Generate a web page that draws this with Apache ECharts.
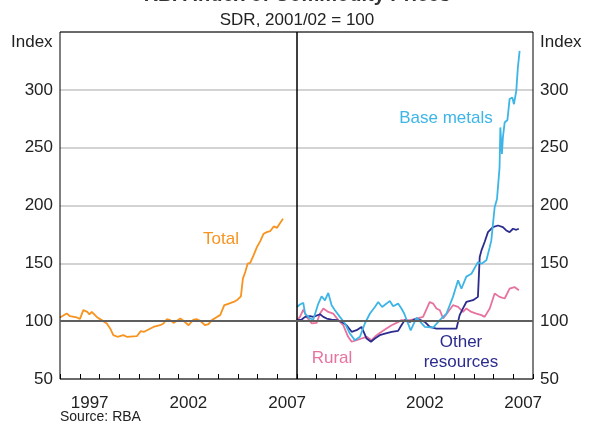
<!DOCTYPE html>
<html>
<head>
<meta charset="utf-8">
<script src="https://cdn.jsdelivr.net/npm/echarts@6/dist/echarts.min.js"></script>
<style>html,body{margin:0;padding:0;background:#fff}#c{width:591px;height:425px}</style>
</head>
<body>
<div id="c"></div>
<script>
// ---- data ----
const yearCats = ['1996','1997','1998','1999','2000','2001','2002','2003','2004','2005','2006','2007'];
const leftLabels = ['1997','2002','2007'];
const rightLabels = ['2002','2007'];
const yTicks = [50,100,150,200,250,300];

const totalX = [1996.0,1996.34,1996.51,1996.85,1997.01,1997.18,1997.38,1997.49,1997.61,1997.86,1998.11,1998.37,1998.54,1998.70,1998.91,1999.21,1999.38,1999.89,2000.09,2000.26,2000.73,2001.07,2001.24,2001.41,2001.58,2001.75,2002.09,2002.25,2002.51,2002.76,2002.93,2003.10,2003.35,2003.52,2003.69,2003.95,2004.11,2004.32,2004.45,2004.79,2004.99,2005.16,2005.26,2005.38,2005.50,2005.63,2005.80,2005.97,2006.14,2006.31,2006.47,2006.64,2006.82,2006.99,2007.12,2007.29];
const totalY = [103.2,106.6,104.3,103.2,102,109.5,108,105.8,108,103.7,100.9,98,93.7,87.9,86.5,87.9,86.5,87,91.4,90.8,95,96.5,98,101.7,100.9,98.5,102.3,100.3,96.5,101.4,101.7,100.3,96.5,97.4,100.9,103.7,105.2,113.8,114.6,116.6,118.6,121.5,136.8,142.5,149.7,150.3,156.9,164,169.2,175.6,177,177.8,181.9,180.7,184.2,188.5];

const baseX = [1996.0,1996.15,1996.32,1996.41,1996.66,1996.83,1997.08,1997.25,1997.42,1997.59,1997.76,1997.93,1998.18,1998.44,1998.69,1998.94,1999.20,1999.45,1999.71,1999.96,2000.13,2000.33,2000.55,2000.72,2000.89,2001.14,2001.31,2001.45,2001.78,2002.08,2002.50,2002.92,2003.26,2003.60,2003.93,2004.19,2004.36,2004.61,2004.87,2005.20,2005.38,2005.63,2005.80,2005.88,2006.05,2006.17,2006.30,2006.34,2006.42,2006.47,2006.56,2006.70,2006.81,2006.95,2007.03,2007.15,2007.23,2007.32];
const baseY = [112.3,114.4,115.8,106.6,102.3,101.4,115,121.5,118,124.4,113.8,109.5,103.7,98,89.3,83.6,86.5,98,106.6,112.3,116.6,112.3,115.2,117.5,112.9,115.2,110.9,106.6,92,103,95,94.5,100.9,106.6,121,135.3,128,138.5,141,151,149.7,152.6,164,169.8,198.5,205.7,233,267.5,244.6,258.9,271.8,273.9,292,293.4,287.6,299.1,319.2,333.6];

const otherX = [1996.0,1996.24,1996.41,1996.66,1996.83,1997.17,1997.34,1997.51,1997.76,1998.02,1998.27,1998.52,1998.78,1999.03,1999.28,1999.54,1999.76,1999.96,2000.21,2000.47,2000.81,2001.14,2001.31,2001.48,2001.74,2002.08,2002.50,2002.75,2003.09,2003.43,2003.77,2004.11,2004.27,2004.44,2004.61,2004.95,2005.20,2005.29,2005.38,2005.54,2005.71,2005.96,2006.22,2006.47,2006.64,2006.81,2006.98,2007.15,2007.28];
const otherY = [100.9,101.4,103.7,104.3,103.7,106,103.7,102.3,101.4,100.9,99.4,96.5,90.8,92.2,95,85,82.2,85,87.9,89.3,90.8,91.6,96.5,100.9,99.4,102.3,99.4,95,93.6,93.6,93.6,93.6,105.2,111,116.6,118.1,121,155.4,161.2,168.4,177,181.3,182.7,181.3,178.4,177,179.9,179,179.9];

const ruralX = [1996.0,1996.15,1996.32,1996.49,1996.75,1997.0,1997.17,1997.34,1997.59,1997.84,1998.10,1998.35,1998.60,1998.78,1999.03,1999.28,1999.54,1999.79,2000.05,2000.30,2000.55,2000.81,2001.06,2001.31,2001.74,2002.08,2002.41,2002.75,2002.92,2003.09,2003.26,2003.43,2003.68,2003.93,2004.19,2004.44,2004.61,2004.87,2005.12,2005.38,2005.54,2005.80,2006.05,2006.30,2006.56,2006.81,2007.06,2007.28];
const ruralY = [100.9,103.7,110,103.7,98,98.5,106.6,110.9,108,106.6,100.9,96.5,86.5,82.2,83.6,85,86.5,83.6,87.9,90.8,93.6,96.5,98.5,100.9,100.9,102.3,103.7,116.6,115.2,111,109.5,102.3,108,113.8,112.3,108,111,108,106.6,105.2,103.7,111,123.9,121,119.6,128.1,129.5,126.7];

// ---- chart ----
const FONT = "'Liberation Sans', Arial, sans-serif";
const C_TOTAL = '#F7931E', C_BASE = '#3DB5E6', C_OTHER = '#2B2C8E', C_RURAL = '#E8729F';
const zip = (xs, ys) => xs.map((x, i) => [x, ys[i]]);

const chart = echarts.init(document.getElementById('c'), null, {renderer: 'canvas'});

function valueX(grid) {
  return {type: 'value', gridIndex: grid, min: 1996, max: 2008, interval: 1,
    axisLine: {show: false}, axisTick: {show: true, inside: true, length: 5, lineStyle: {color: '#000', width: 1}},
    axisLabel: {show: false}, splitLine: {show: false}};
}
function catX(grid, shown) {
  return {type: 'category', gridIndex: grid, data: yearCats, boundaryGap: true, position: 'bottom',
    axisLine: {show: false}, axisTick: {show: false}, splitLine: {show: false},
    axisLabel: {interval: (i, v) => shown.indexOf(v) >= 0, margin: 16, fontSize: 17, color: '#222', fontFamily: FONT}};
}
function yAx(grid, pos) {
  return {type: 'value', gridIndex: grid, min: 50, max: 350, interval: 50, position: pos,
    axisLine: {show: false}, axisTick: {show: false},
    axisLabel: {margin: 7, fontSize: 17, color: '#222', fontFamily: FONT,
      formatter: v => yTicks.indexOf(v) >= 0 ? String(v) : ''},
    splitLine: {show: true, lineStyle: {color: '#C4C4C4', width: 1.5}}};
}
function refLine(xi, yi) {
  return {type: 'line', xAxisIndex: xi, yAxisIndex: yi, data: [], z: 1, silent: true,
    markLine: {silent: true, symbol: 'none', label: {show: false}, animation: false,
      lineStyle: {color: '#5E5E5E', width: 2, type: 'solid'}, data: [{yAxis: 100}]}};
}
function ln(name, xi, yi, xs, ys, color) {
  return {type: 'line', name: name, xAxisIndex: xi, yAxisIndex: yi, data: zip(xs, ys), z: 3,
    showSymbol: false, symbol: 'none', lineStyle: {color: color, width: 1.8}, itemStyle: {color: color}, animation: false};
}
function txt(x, y, s, color, size, align, weight) {
  return {type: 'text', x: x, y: y, silent: true, z: 10,
    style: {text: s, fill: color, fontSize: size, fontFamily: FONT, fontWeight: weight || 'normal',
      align: align || 'center', verticalAlign: 'middle'}};
}

chart.setOption({
  animation: false,
  backgroundColor: '#fff',
  grid: [
    {left: 60, right: 294, top: 32, bottom: 46, show: true, borderColor: '#000', borderWidth: 1, backgroundColor: 'transparent', z: 5},
    {left: 297, right: 58, top: 32, bottom: 46, show: true, borderColor: '#000', borderWidth: 1, backgroundColor: 'transparent', z: 5}
  ],
  xAxis: [valueX(0), catX(0, leftLabels), valueX(1), catX(1, rightLabels)],
  yAxis: [yAx(0, 'left'), yAx(1, 'right')],
  series: [
    refLine(0, 0), refLine(2, 1),
    ln('Total', 0, 0, totalX, totalY, C_TOTAL),
    ln('Rural', 2, 1, ruralX, ruralY, C_RURAL),
    ln('Other resources', 2, 1, otherX, otherY, C_OTHER),
    ln('Base metals', 2, 1, baseX, baseY, C_BASE)
  ],
  graphic: [
    txt(297, -5, 'RBA Index of Commodity Prices', '#333', 20, 'center', 'bold'),
    txt(297, 20, 'SDR, 2001/02 = 100', '#222', 17),
    txt(11, 42, 'Index', '#222', 17, 'left'),
    txt(540, 42, 'Index', '#222', 17, 'left'),
    txt(60, 417, 'Source: RBA', '#222', 14, 'left'),
    txt(221, 239, 'Total', C_TOTAL, 17),
    txt(446, 118, 'Base metals', C_BASE, 17),
    txt(332, 358, 'Rural', C_RURAL, 17),
    txt(461, 342, 'Other', C_OTHER, 17),
    txt(461, 362, 'resources', C_OTHER, 17)
  ]
});
</script>
</body>
</html>
